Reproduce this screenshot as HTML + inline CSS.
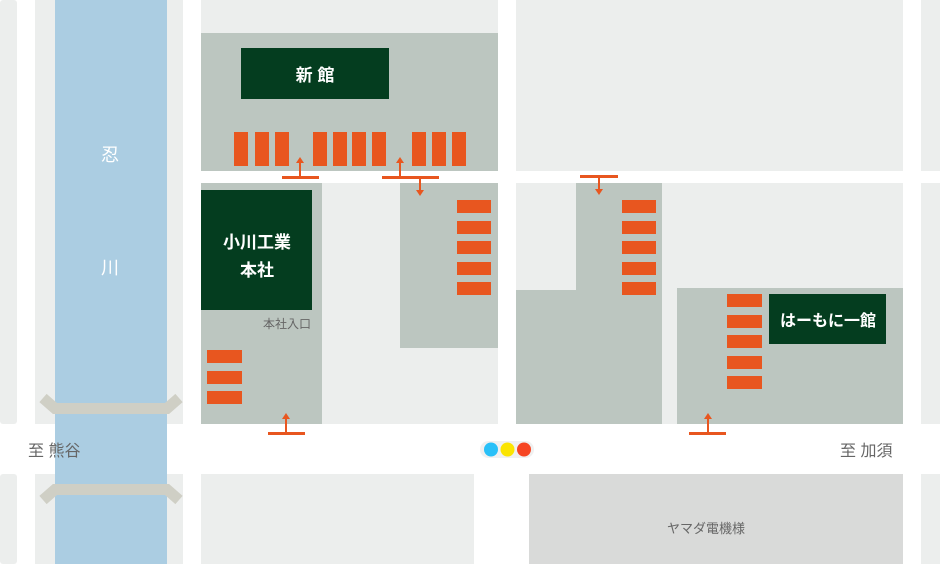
<!DOCTYPE html>
<html><head><meta charset="utf-8"><style>
html,body{margin:0;padding:0;background:#fff;}
svg{display:block;font-family:"Liberation Sans","Noto Sans CJK JP",sans-serif;}
</style></head><body>
<svg width="940" height="564" viewBox="0 0 940 564" xmlns="http://www.w3.org/2000/svg">
<rect width="940" height="564" fill="#fff"/>
<g fill="#eceeed">
<rect x="0" y="0" width="17" height="424" rx="3"/>
<rect x="0" y="474" width="17" height="90" rx="3"/>
<rect x="35" y="0" width="148" height="424"/>
<rect x="35" y="474" width="148" height="90"/>
<rect x="201" y="0" width="297" height="171"/>
<rect x="201" y="183" width="297" height="241"/>
<rect x="201" y="474" width="273" height="90"/>
<rect x="516" y="0" width="387" height="171"/>
<rect x="516" y="183" width="387" height="241"/>
<rect x="921" y="0" width="19" height="171"/>
<rect x="921" y="183" width="19" height="241"/>
<rect x="921" y="474" width="19" height="90"/>
</g>
<rect x="529" y="474" width="374" height="90" fill="#d9dad9"/>
<rect x="55" y="0" width="112" height="564" fill="#abcde2"/>
<g fill="none" stroke="#cfcfc5" stroke-width="11">
<polyline points="43,398 55,408.5 167,408.5 179,398"/>
<polyline points="43,500 55,489.5 167,489.5 179,500"/>
</g>
<g fill="#bcc6c0">
<rect x="201" y="33" width="297" height="138"/>
<rect x="201" y="183" width="121" height="241"/>
<rect x="400" y="183" width="98" height="165"/>
<polygon points="576,183 662,183 662,424 516,424 516,290 576,290"/>
<rect x="677" y="288" width="226" height="136"/>
</g>
<g fill="#043d1f">
<rect x="241" y="48" width="148" height="51"/>
<rect x="201" y="190" width="111" height="120"/>
<rect x="769" y="294" width="117" height="50"/>
</g>
<g fill="#e8561f">
<rect x="234" y="132" width="14" height="34"/><rect x="255" y="132" width="14" height="34"/><rect x="275" y="132" width="14" height="34"/>
<rect x="313" y="132" width="14" height="34"/><rect x="333" y="132" width="14" height="34"/><rect x="352" y="132" width="14" height="34"/><rect x="372" y="132" width="14" height="34"/>
<rect x="412" y="132" width="14" height="34"/><rect x="432" y="132" width="14" height="34"/><rect x="452" y="132" width="14" height="34"/>
<rect x="457" y="200" width="34" height="13"/><rect x="457" y="221" width="34" height="13"/><rect x="457" y="241" width="34" height="13"/><rect x="457" y="262" width="34" height="13"/><rect x="457" y="282" width="34" height="13"/>
<rect x="622" y="200" width="34" height="13"/><rect x="622" y="221" width="34" height="13"/><rect x="622" y="241" width="34" height="13"/><rect x="622" y="262" width="34" height="13"/><rect x="622" y="282" width="34" height="13"/>
<rect x="207" y="350" width="35" height="13"/><rect x="207" y="371" width="35" height="13"/><rect x="207" y="391" width="35" height="13"/>
<rect x="727" y="294" width="35" height="13"/><rect x="727" y="315" width="35" height="13"/><rect x="727" y="335" width="35" height="13"/><rect x="727" y="356" width="35" height="13"/><rect x="727" y="376" width="35" height="13"/>
<rect x="282" y="176" width="37" height="3"/><rect x="299" y="162" width="2" height="15"/><polygon points="296,163 304,163 300,157"/>
<rect x="382" y="176" width="57" height="3"/><rect x="399" y="162" width="2" height="15"/><polygon points="396,163 404,163 400,157"/>
<rect x="419" y="178" width="2" height="13"/><polygon points="416,190 424,190 420,196"/>
<rect x="580" y="175" width="38" height="3"/><rect x="598" y="177" width="2" height="13"/><polygon points="595,189 603,189 599,195"/>
<rect x="268" y="432" width="37" height="3"/><rect x="285" y="418" width="2" height="15"/><polygon points="282,419 290,419 286,413"/>
<rect x="689" y="432" width="37" height="3"/><rect x="707" y="418" width="2" height="15"/><polygon points="704,419 712,419 708,413"/>
</g>
<rect x="480" y="441" width="54" height="17" rx="8.5" fill="#f0f0f0"/>
<circle cx="491" cy="449.5" r="7" fill="#29c0f8"/>
<circle cx="507.5" cy="449.5" r="7" fill="#fbe400"/>
<circle cx="524" cy="449.5" r="7" fill="#f64523"/>
<g fill="#fff" font-weight="bold" text-anchor="middle">
<text x="315" y="81" font-size="17">新 館</text>
<text x="257" y="248" font-size="17">小川工業</text>
<text x="257" y="276" font-size="17">本社</text>
<text x="828" y="326" font-size="16">はーもに一館</text>
</g>
<g fill="#fff" text-anchor="middle" font-size="18">
<text x="110" y="161">忍</text>
<text x="110" y="274">川</text>
</g>
<g fill="#666" font-size="12" text-anchor="middle">
<text x="287" y="328">本社入口</text>
<text x="706" y="533" font-size="13">ヤマダ電機様</text>
</g>
<g fill="#666" font-size="16">
<text x="28" y="456">至  熊谷</text>
<text x="840" y="456">至  加須</text>
</g>
</svg>
</body></html>
